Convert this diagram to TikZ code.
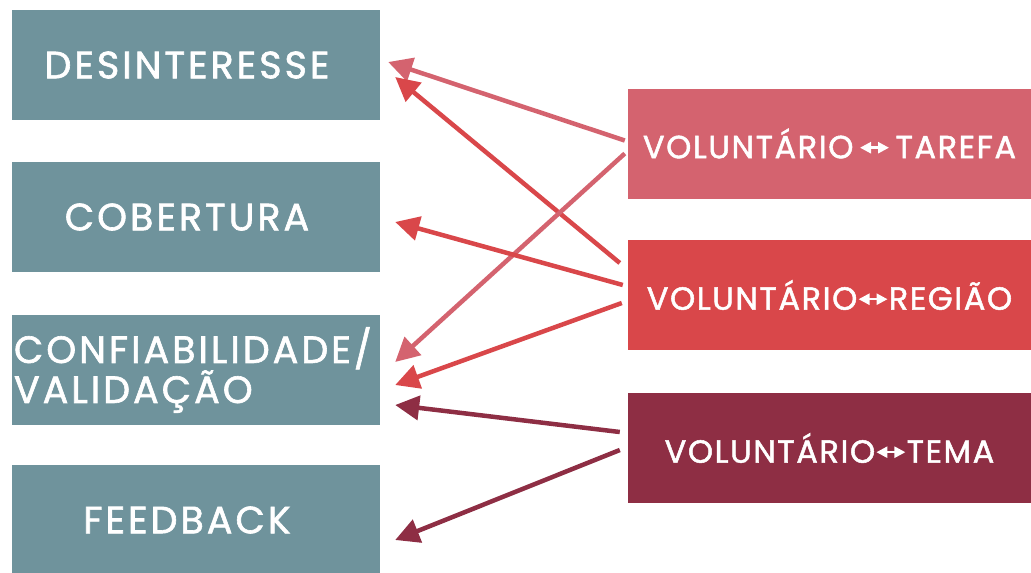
\documentclass[tikz,border=0pt]{standalone}
\usepackage{fontspec}
\setmainfont{Poppins}
\usetikzlibrary{arrows.meta,calc}
\definecolor{slate}{HTML}{6F939C}
\definecolor{rose}{HTML}{D4636F}
\definecolor{scarlet}{HTML}{D9474A}
\definecolor{wine}{HTML}{8E2E44}
% small white double-headed arrow used inside the link labels
\newcommand{\twoway}{\tikz[baseline=-0.6ex]\draw[white,line width=2.5pt,{Triangle[length=11pt,width=11pt]}-{Triangle[length=11pt,width=11pt]}] (0,0)--(29pt,0);}
\newcommand{\issuestyle}{\addfontfeature{FakeBold=1.6,LetterSpace=8}}
\newcommand{\linkstyle}{\addfontfeature{FakeBold=1.6,LetterSpace=5}}
% labels in the left column sit a little left of the box centre
\newcommand{\offleft}[1]{#1\hspace*{18pt}}
\begin{document}
\begin{tikzpicture}[x=1pt,y=-1pt,
  issue/.style={fill=slate,text=white,minimum width=368pt,minimum height=110pt,inner sep=0pt,font=\fontsize{38}{40}\selectfont\issuestyle},
  link/.style={fill=#1,text=white,minimum width=403pt,minimum height=110pt,inner sep=0pt,font=\fontsize{32}{34}\selectfont\linkstyle},
  conn/.style={draw=#1,line width=4.5pt,-{Triangle[length=24pt,width=24pt]}}]
\useasboundingbox (0,0) rectangle (1031,573);
\node[issue] (desint) at (196,65) {\offleft{DESINTERESSE}};
\node[issue,align=left,text width=364pt] (conf) at (196,370) {CONFIABILIDADE/\\VALIDAÇÃO};
\node[issue] (cob) at (196,217) {\offleft{COBERTURA}};
\node[issue] (feed) at (196,520) {\offleft{FEEDBACK}};
\node[link=rose] (tarefa) at (829.5,143.5) {VOLUNTÁRIO\,\twoway\,TAREFA};
\node[link=scarlet] (regiao) at (829.5,295) {VOLUNTÁRIO\twoway REGIÃO};
\node[link=wine] (tema) at (829.5,448) {VOLUNTÁRIO\twoway TEMA};
\draw[conn=rose] ($(tarefa.west)+(-3,-3)$) -- ($(desint.east)+(8,-3)$);
\draw[conn=scarlet] ($(regiao.west)+(-8,-32)$) -- ($(desint.east)+(15,12)$);
\draw[conn=rose] ($(tarefa.west)+(-3,10)$) -- ($(conf.east)+(15,-8)$);
\draw[conn=scarlet] ($(regiao.west)+(-5,-10)$) -- ($(cob.east)+(15,5)$);
\draw[conn=scarlet] ($(regiao.west)+(-6,8)$) -- ($(conf.east)+(15,15)$);
\draw[conn=wine] ($(tema.west)+(-8,-16)$) -- ($(conf.east)+(15,35)$);
\draw[conn=wine] ($(tema.west)+(-8,2)$) -- ($(feed.east)+(15,20)$);
\end{tikzpicture}
\end{document}
